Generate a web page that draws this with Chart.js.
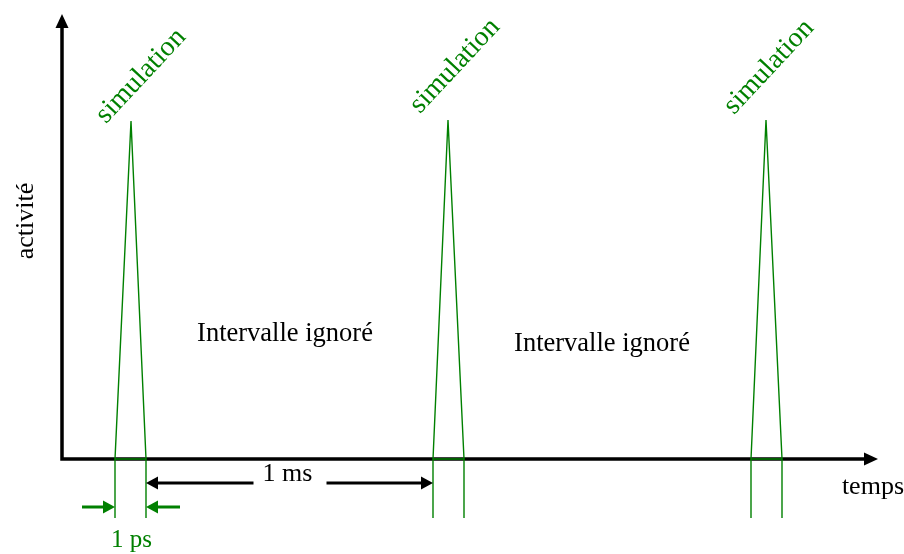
<!DOCTYPE html>
<html lang="fr">
<head>
<meta charset="UTF-8">
<title>Activité de simulation</title>
<script src="https://cdn.jsdelivr.net/npm/chart.js"></script>
<style>
  html, body { margin: 0; padding: 0; background: #fff; }
  #chart { display: block; }
</style>
</head>
<body>
<canvas id="chart" width="904" height="554"></canvas>
<script>
// Données (unités arbitraires de temps / activité)
const peakLeft   = [53, 371, 689];
const peakApex   = [69, 386, 704];
const peakRight  = [84, 402, 720];
const peakHeight = [338, 339, 339];
const guideBottom = -59;           // prolongement des traits verticaux sous l'axe
const peakLabel = 'simulation';
const gapLabel = 'Intervalle ignoré';
const xTitle = 'temps';
const yTitle = 'activité';
const msLabel = '1 ms';
const psLabel = '1 ps';

const green = '#008000';
const serif = '"Liberation Serif", "DejaVu Serif", serif';

// Un jeu de données par pic : triangle + traits verticaux + base
const datasets = peakLeft.map((l, i) => ({
  data: [
    { x: l, y: guideBottom },
    { x: l, y: 0 },
    { x: peakApex[i], y: peakHeight[i] },
    { x: peakRight[i], y: 0 },
    { x: peakRight[i], y: guideBottom },
    { x: peakRight[i], y: null },
    { x: l, y: 0 },
    { x: peakRight[i], y: 0 }
  ],
  borderColor: green,
  borderWidth: 1.4,
  pointRadius: 0,
  tension: 0,
  spanGaps: false,
  clip: false
}));

function arrowHead(ctx, x, y, dir, color) {
  // dir = 1 pointe vers la droite, -1 vers la gauche
  ctx.fillStyle = color;
  ctx.beginPath();
  ctx.moveTo(x, y);
  ctx.lineTo(x - dir * 12, y - 6.5);
  ctx.lineTo(x - dir * 12, y + 6.5);
  ctx.closePath();
  ctx.fill();
}

const annotations = {
  id: 'annotations',
  beforeDatasetsDraw(chart) {
    const ctx = chart.ctx;
    const xs = chart.scales.x, ys = chart.scales.y;
    const x0 = xs.getPixelForValue(0), y0 = ys.getPixelForValue(0);
    const xEnd = xs.getPixelForValue(xs.max), yEnd = ys.getPixelForValue(ys.max);
    ctx.save();
    ctx.strokeStyle = '#000';
    ctx.lineWidth = 3.5;
    ctx.beginPath();
    ctx.moveTo(x0, y0);
    ctx.lineTo(xEnd - 10, y0);
    ctx.moveTo(x0, y0 + 1.75);
    ctx.lineTo(x0, yEnd + 10);
    ctx.stroke();
    // pointes des axes
    ctx.fillStyle = '#000';
    ctx.beginPath();
    ctx.moveTo(xEnd, y0);
    ctx.lineTo(xEnd - 14, y0 - 6.5);
    ctx.lineTo(xEnd - 14, y0 + 6.5);
    ctx.closePath();
    ctx.fill();
    ctx.beginPath();
    ctx.moveTo(x0, yEnd);
    ctx.lineTo(x0 - 6.5, yEnd + 14);
    ctx.lineTo(x0 + 6.5, yEnd + 14);
    ctx.closePath();
    ctx.fill();
    ctx.restore();
  },
  afterDraw(chart) {
    const ctx = chart.ctx;
    const xs = chart.scales.x, ys = chart.scales.y;
    const px = v => xs.getPixelForValue(v);
    const py = v => ys.getPixelForValue(v);
    ctx.save();

    // étiquettes "simulation" inclinées
    const lblDx = [10, 7, 3], lblDy = [-45, -54, -53];
    ctx.font = '28px ' + serif;
    ctx.fillStyle = green;
    ctx.textAlign = 'center';
    ctx.textBaseline = 'middle';
    peakApex.forEach((a, i) => {
      ctx.save();
      ctx.translate(px(a) + lblDx[i], py(peakHeight[i]) + lblDy[i]);
      ctx.rotate(-47 * Math.PI / 180);
      ctx.fillText(peakLabel, 0, 0);
      ctx.restore();
    });

    // "Intervalle ignoré"
    ctx.font = '26.5px ' + serif;
    ctx.fillStyle = '#000';
    ctx.textBaseline = 'alphabetic';
    ctx.fillText(gapLabel, 285, 341);
    ctx.fillText(gapLabel, 602, 351);

    // titres des axes
    ctx.font = '26px ' + serif;
    ctx.textAlign = 'right';
    ctx.fillText(xTitle, 904, 494);
    ctx.save();
    ctx.translate(33, 221);
    ctx.rotate(-Math.PI / 2);
    ctx.textAlign = 'center';
    ctx.fillText(yTitle, 0, 0);
    ctx.restore();

    // flèche "1 ms"
    const msY = py(-24);
    const msA = px(peakRight[0]), msB = px(peakLeft[1]);
    const msC = (msA + msB) / 2;
    ctx.strokeStyle = '#000';
    ctx.lineWidth = 3;
    ctx.beginPath();
    ctx.moveTo(msA + 8, msY);
    ctx.lineTo(msC - 36, msY);
    ctx.moveTo(msC + 37, msY);
    ctx.lineTo(msB - 8, msY);
    ctx.stroke();
    arrowHead(ctx, msA, msY, -1, '#000');
    arrowHead(ctx, msB, msY, 1, '#000');
    ctx.font = '26px ' + serif;
    ctx.textAlign = 'center';
    ctx.fillText(msLabel, msC - 2, 481);

    // flèches "1 ps"
    const psY = py(-48);
    const pl = px(peakLeft[0]), pr = px(peakRight[0]);
    ctx.strokeStyle = green;
    ctx.lineWidth = 3;
    ctx.beginPath();
    ctx.moveTo(pl - 33, psY);
    ctx.lineTo(pl - 8, psY);
    ctx.moveTo(pr + 8, psY);
    ctx.lineTo(pr + 34, psY);
    ctx.stroke();
    arrowHead(ctx, pl, psY, 1, green);
    arrowHead(ctx, pr, psY, -1, green);
    ctx.fillStyle = green;
    ctx.font = '25px ' + serif;
    ctx.fillText(psLabel, (pl + pr) / 2 + 1, 547);

    ctx.restore();
  }
};

new Chart(document.getElementById('chart').getContext('2d'), {
  type: 'line',
  data: { datasets: datasets },
  options: {
    responsive: false,
    animation: false,
    layout: { padding: { left: 62, right: 26, top: 14, bottom: 0 } },
    scales: {
      x: { type: 'linear', min: 0, max: 816, display: false },
      y: { type: 'linear', min: -95, max: 445, display: false }
    },
    plugins: {
      legend: { display: false },
      tooltip: { enabled: false }
    }
  },
  plugins: [annotations]
});
</script>
</body>
</html>
